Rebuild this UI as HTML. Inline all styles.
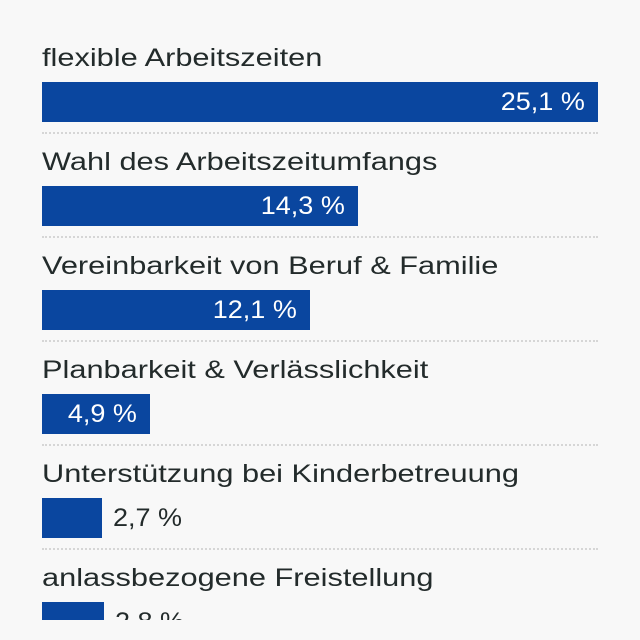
<!DOCTYPE html>
<html><head><style>
html,body{margin:0;padding:0;background:#f8f8f8;width:640px;height:640px;overflow:hidden;}
body{position:relative;font-family:"Liberation Sans",sans-serif;}
.clip{position:absolute;left:0;top:0;width:640px;height:620px;overflow:hidden;}
.row{position:absolute;left:42px;width:556px;height:80px;}
.lab{position:absolute;left:0;top:-12px;font-size:25px;color:#232b2b;white-space:nowrap;line-height:32px;transform:scaleX(1.23);transform-origin:0 0;}
.bar{position:absolute;left:0;top:28px;height:40px;background:#0a469f;}
.v{position:absolute;top:28px;height:40px;line-height:40px;font-size:25px;white-space:nowrap;}
.in{color:#fff;right:auto;transform:scaleX(1.08);transform-origin:100% 0;}
.out{color:#232b2b;transform:scaleX(1.08);transform-origin:0 0;}
.sep{position:absolute;left:0;top:78px;width:556px;border-top:2px dotted #d6d6d6;}
</style></head><body><div class="clip">
<div class="row" style="top:54px"><div class="lab">flexible Arbeitszeiten</div><div class="bar" style="width:556px"></div><div class="v in" style="right:13px">25,1 %</div><div class="sep"></div></div>
<div class="row" style="top:158px"><div class="lab">Wahl des Arbeitszeitumfangs</div><div class="bar" style="width:316px"></div><div class="v in" style="right:253px">14,3 %</div><div class="sep"></div></div>
<div class="row" style="top:262px"><div class="lab">Vereinbarkeit von Beruf &amp; Familie</div><div class="bar" style="width:268px"></div><div class="v in" style="right:301px">12,1 %</div><div class="sep"></div></div>
<div class="row" style="top:366px"><div class="lab">Planbarkeit &amp; Verlässlichkeit</div><div class="bar" style="width:108px"></div><div class="v in" style="right:461px">4,9 %</div><div class="sep"></div></div>
<div class="row" style="top:470px"><div class="lab">Unterstützung bei Kinderbetreuung</div><div class="bar" style="width:60px"></div><div class="v out" style="left:71px">2,7 %</div><div class="sep"></div></div>
<div class="row" style="top:574px;height:46px;overflow:visible"><div class="lab">anlassbezogene Freistellung</div><div class="bar" style="width:62px"></div><div class="v out" style="left:73px">2,8 %</div></div>
</div></body></html>
